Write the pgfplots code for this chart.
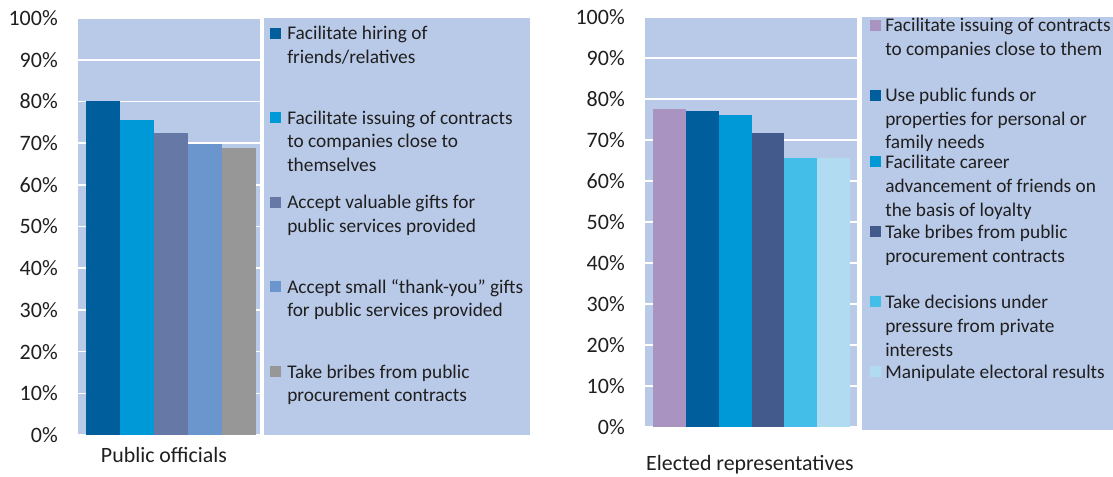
\documentclass[border=0pt]{standalone}
\usepackage{fontspec}
\setmainfont{Carlito}
\usepackage{pgfplots}
\pgfplotsset{compat=1.18}
\definecolor{bg}{HTML}{B9C9E8}
\definecolor{txt}{HTML}{1F1F1F}
\definecolor{cA}{HTML}{005E9C}
\definecolor{cB}{HTML}{0099D8}
\definecolor{cC}{HTML}{6678A6}
\definecolor{cD}{HTML}{6A96CD}
\definecolor{cE}{HTML}{979797}
\definecolor{rA}{HTML}{A994C1}
\definecolor{rD}{HTML}{435B8C}
\definecolor{rE}{HTML}{42BEE8}
\definecolor{rF}{HTML}{B1DBF1}
\tikzset{lbl/.style={font=\fontsize{16.4}{19}\selectfont, text=txt, inner sep=0pt, anchor=base}}
\pgfplotsset{
  panel/.style={
    anchor=south west, scale only axis,
    ymin=0, ymax=100,
    ytick={0,10,...,100},
    yticklabels={0\%,10\%,20\%,30\%,40\%,50\%,60\%,70\%,80\%,90\%,100\%},
    xtick=\empty,
    axis background/.style={fill=bg},
    axis line style={draw=none},
    major tick length=0pt,
    ymajorgrids, grid style={white, line width=1.2pt},
    yticklabel style={font=\fontsize{16.5}{19}\selectfont, text=txt, inner sep=0pt},
    yticklabel shift=15pt,
    clip=false,
  },
}
\begin{document}
\begin{tikzpicture}
\path[use as bounding box] (0,0) rectangle (834.75pt,357pt);
% Left panel
\begin{axis}[panel,
  at={(58.5pt,30.75pt)}, width=136.5pt, height=312.75pt,
  xmin=0.265, xmax=5.618,
  every axis x label/.style={at={(axis description cs:0.4725,0)}, lbl, yshift=-20.25pt},
  xlabel={Public officials}]
\addplot[ybar, bar width=1, fill=cA, draw=none] coordinates {(1,80.0)};
\addplot[ybar, bar width=1, fill=cB, draw=none] coordinates {(2,75.5)};
\addplot[ybar, bar width=1, fill=cC, draw=none] coordinates {(3,72.4)};
\addplot[ybar, bar width=1, fill=cD, draw=none] coordinates {(4,69.8)};
\addplot[ybar, bar width=1, fill=cE, draw=none] coordinates {(5,68.8)};
\end{axis}
% Right panel
\begin{axis}[panel,
  at={(483.75pt,36.75pt)}, width=159pt, height=307.5pt,
  xmin=0.256, xmax=6.713,
  every axis x label/.style={at={(axis description cs:0.495,0)}, lbl, yshift=-32.25pt},
  xlabel={Elected representatives}]
\addplot[ybar, bar width=1, fill=rA, draw=none] coordinates {(1,77.6)};
\addplot[ybar, bar width=1, fill=cA, draw=none] coordinates {(2,77.1)};
\addplot[ybar, bar width=1, fill=cB, draw=none] coordinates {(3,76.1)};
\addplot[ybar, bar width=1, fill=rD, draw=none] coordinates {(4,71.7)};
\addplot[ybar, bar width=1, fill=rE, draw=none] coordinates {(5,65.7)};
\addplot[ybar, bar width=1, fill=rF, draw=none] coordinates {(6,65.7)};
\end{axis}
% Legends (pixel coordinates, y downward)
\begin{scope}[x=0.75pt, y=-0.75pt, shift={(0pt,357pt)},
  every node/.style={anchor=base west, inner sep=0pt, text=txt, font=\fontsize{14.5}{17.6}\selectfont}]
\fill[bg] (264,18) rectangle (530,435);
\fill[bg] (862,17) rectangle (1113,430);
% left legend
\fill[cA] (270,28) rectangle (281,39);
\node at (287,40) {Facilitate hiring of};
\node at (287,63.5) {friends/relatives};
\fill[cB] (270,112) rectangle (281,123);
\node at (287,124) {Facilitate issuing of contracts};
\node at (287,147.5) {to companies close to};
\node at (287,171) {themselves};
\fill[cC] (270,196.5) rectangle (281,207.5);
\node at (287,208.5) {Accept valuable gifts for};
\node at (287,232) {public services provided};
\fill[cD] (270,281) rectangle (281,292);
\node at (287,293) {Accept small “thank-you” gifts};
\node at (287,316.5) {for public services provided};
\fill[cE] (270,366) rectangle (281,377);
\node at (287,378) {Take bribes from public};
\node at (287,401.5) {procurement contracts};
% right legend
\fill[rA] (870,20) rectangle (881,31);
\node at (885,32) {Facilitate issuing of contracts};
\node at (885,55.5) {to companies close to them};
\fill[cA] (870,90) rectangle (881,101);
\node at (885,102) {Use public funds or};
\node at (885,125) {properties for personal or};
\node at (885,148) {family needs};
\fill[cB] (870,156) rectangle (881,167);
\node at (885,168) {Facilitate career};
\node at (885,192) {advancement of friends on};
\node at (885,216) {the basis of loyalty};
\fill[rD] (870,226) rectangle (881,237);
\node at (885,238) {Take bribes from public};
\node at (885,262) {procurement contracts};
\fill[rE] (870,296) rectangle (881,307);
\node at (885,308) {Take decisions under};
\node at (885,332) {pressure from private};
\node at (885,356) {interests};
\fill[rF] (870,366) rectangle (881,377);
\node at (885,378) {Manipulate electoral results};
\end{scope}
\end{tikzpicture}
\end{document}
